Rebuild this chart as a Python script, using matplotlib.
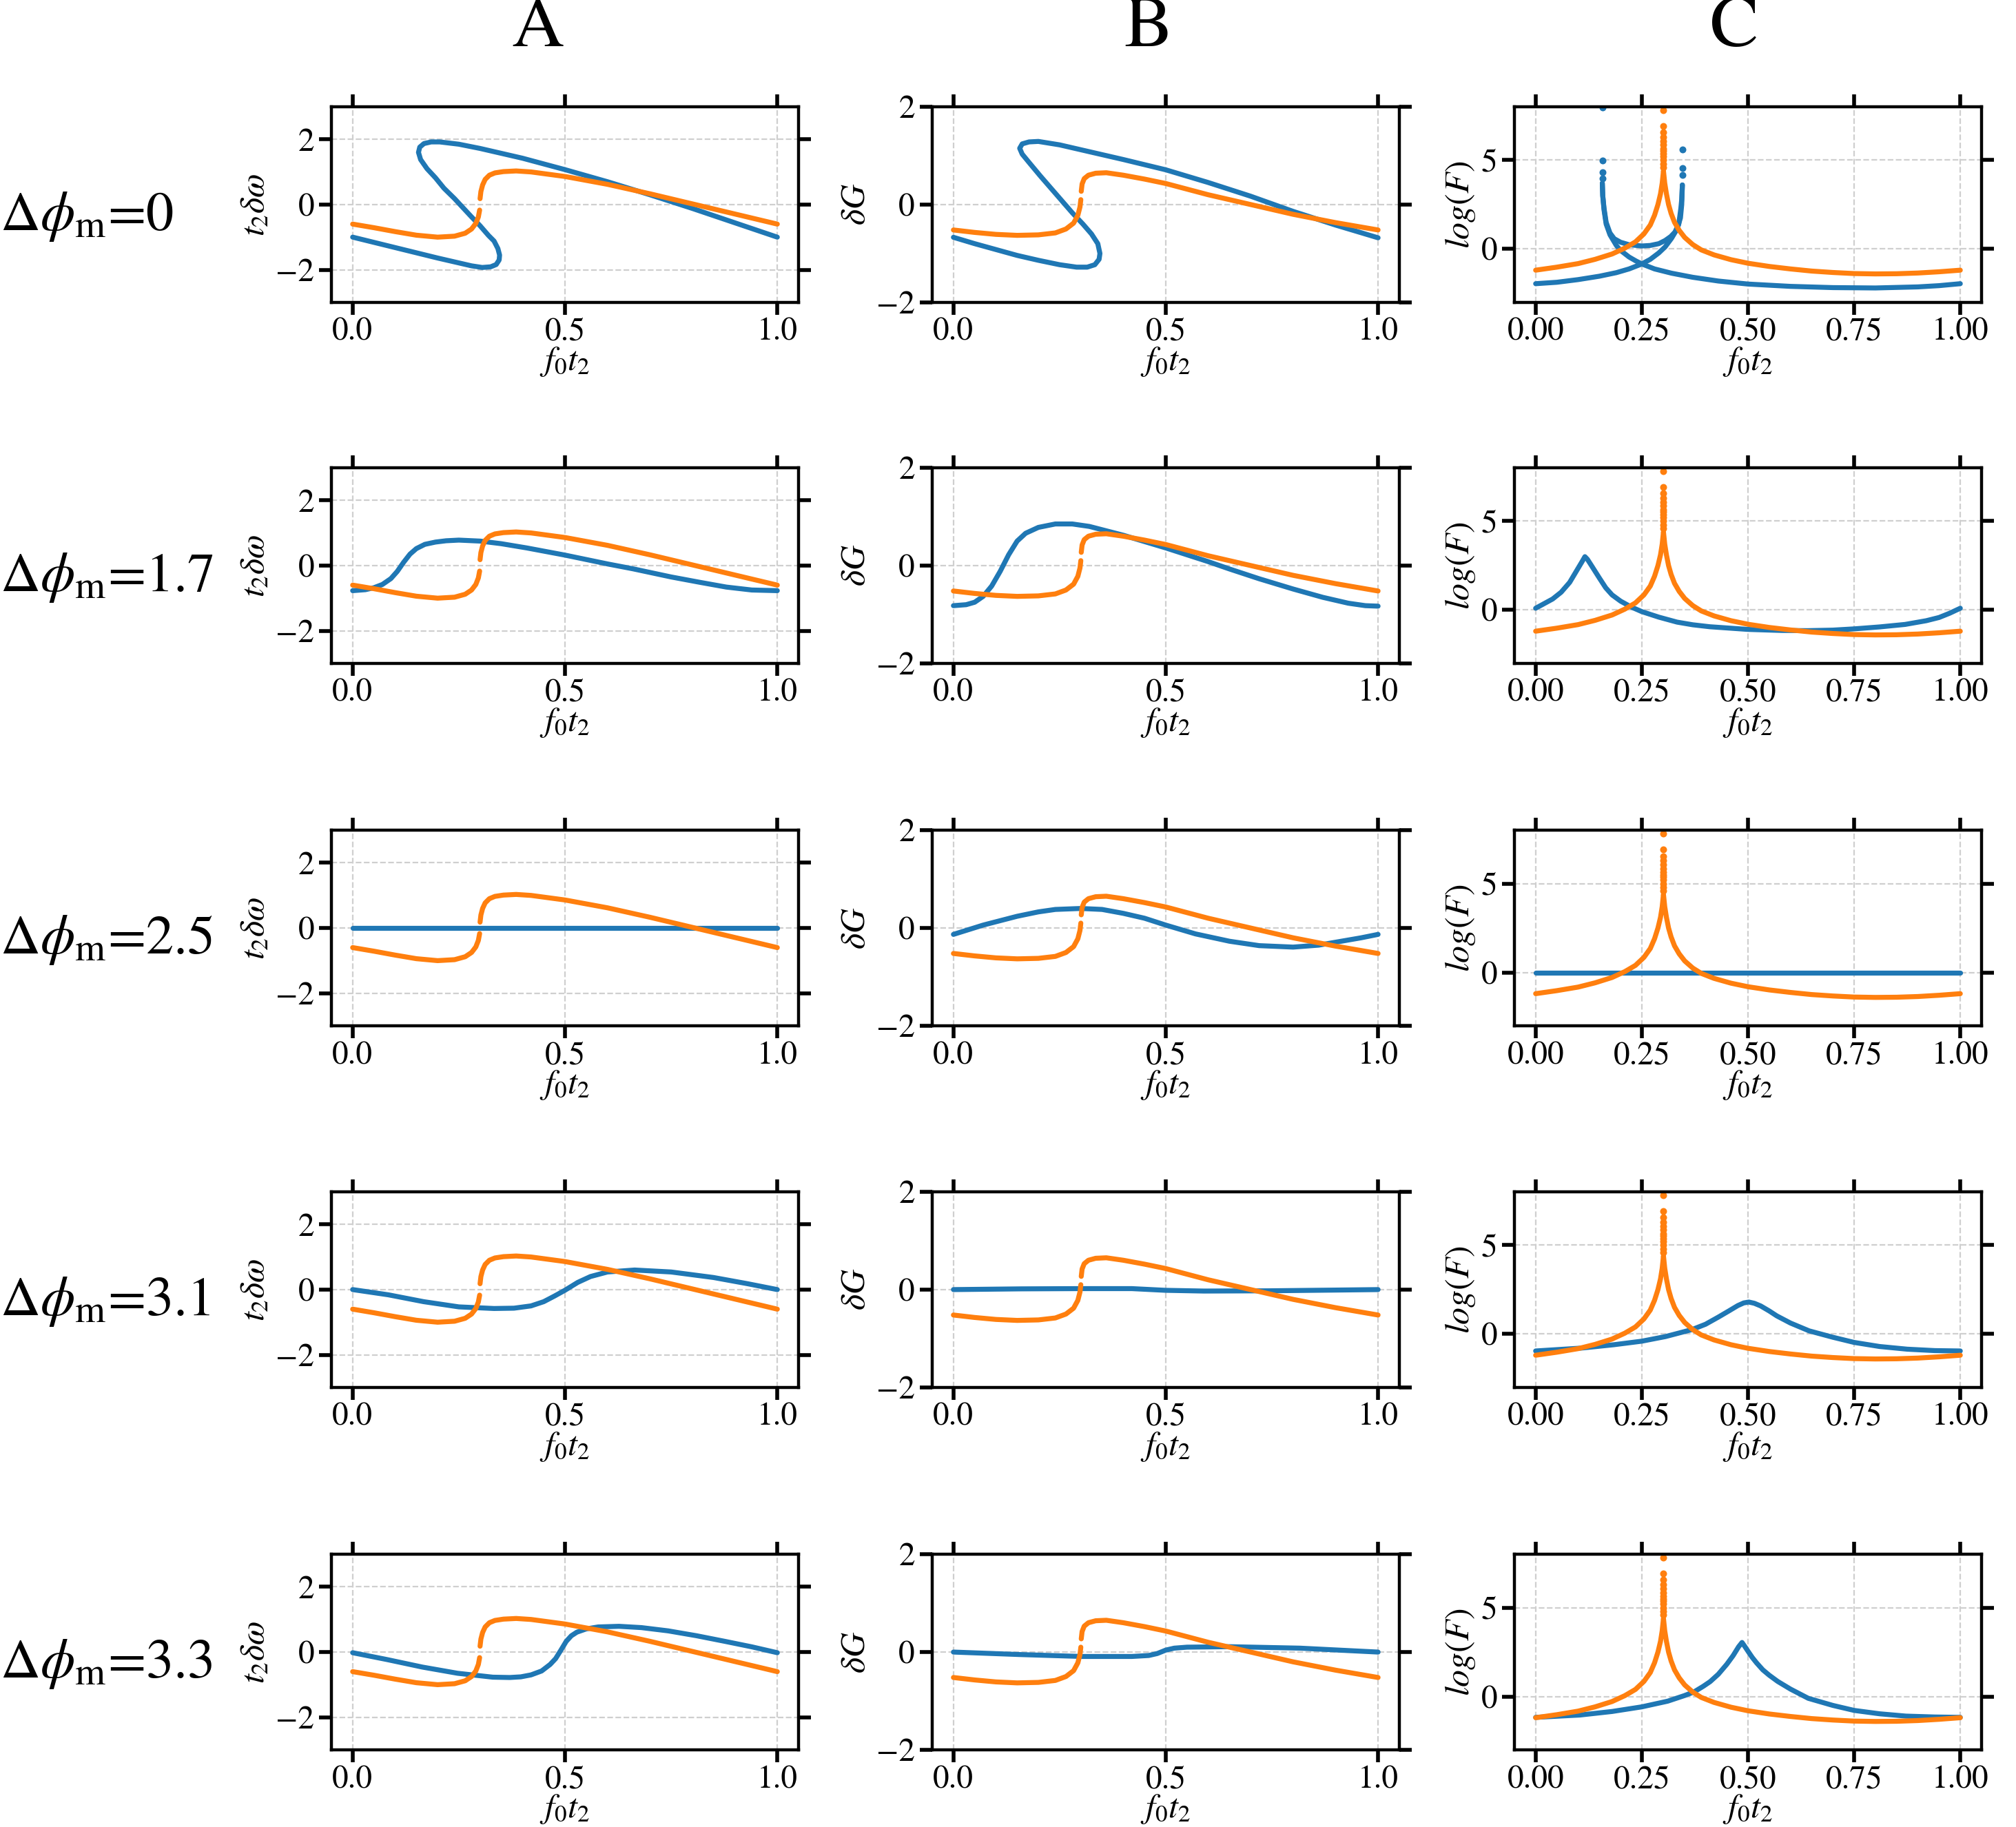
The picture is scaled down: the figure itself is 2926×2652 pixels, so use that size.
import matplotlib
matplotlib.use("Agg")
import numpy as np
import matplotlib.pyplot as plt

plt.rcParams['font.family'] = ['STIXGeneral', 'DejaVu Serif']
plt.rcParams['mathtext.fontset'] = 'stix'

BLUE = '#1f77b4'
ORANGE = '#ff7f0e'

row_labels = ['0', '1.7', '2.5', '3.1', '3.3']
col_titles = ['A', 'B', 'C']

# ---- orange reference curves (same in every row) ----
orange_a_lo_x = [0, 0.05, 0.1, 0.15, 0.2, 0.24, 0.265, 0.28, 0.29, 0.296, 0.299]
orange_a_lo_y = [-0.6, -0.71, -0.83, -0.94, -1.0, -0.97, -0.88, -0.75, -0.58, -0.38, -0.17]
orange_a_hi_x = [0.3, 0.302, 0.306, 0.312, 0.322, 0.335, 0.355, 0.385, 0.42, 0.46, 0.5,
                 0.6, 0.7, 0.8, 0.9, 1.0]
orange_a_hi_y = [0.18, 0.4, 0.6, 0.77, 0.9, 0.97, 1.01, 1.03, 1.0, 0.93, 0.86,
                 0.62, 0.33, 0.02, -0.29, -0.6]

orange_b_lo_x = [0, 0.05, 0.1, 0.15, 0.2, 0.24, 0.265, 0.283, 0.293, 0.298, 0.3]
orange_b_lo_y = [-0.52, -0.57, -0.61, -0.63, -0.62, -0.58, -0.5, -0.38, -0.22, -0.05, 0.1]
orange_b_hi_x = [0.301, 0.303, 0.308, 0.318, 0.335, 0.36, 0.4, 0.45, 0.5, 0.6, 0.7, 0.8, 0.9, 1.0]
orange_b_hi_y = [0.27, 0.42, 0.53, 0.6, 0.64, 0.65, 0.6, 0.52, 0.43, 0.2, 0.0, -0.2, -0.37, -0.52]

orange_c_x = [0, 0.05, 0.1, 0.14, 0.18, 0.21, 0.235, 0.255, 0.27, 0.28, 0.288, 0.294, 0.298, 0.301,
              0.304, 0.308, 0.313, 0.319, 0.327, 0.338, 0.351, 0.37, 0.39, 0.42, 0.46, 0.5,
              0.55, 0.6, 0.65, 0.7, 0.75, 0.8, 0.85, 0.9, 0.95, 1.0]
orange_c_y = [-1.19, -1.02, -0.82, -0.58, -0.28, 0.05, 0.4, 0.85, 1.35, 1.9, 2.5, 3.1, 3.7, 4.4,
              3.7, 3.1, 2.5, 2.0, 1.5, 1.05, 0.65, 0.25, -0.05, -0.33, -0.6, -0.8,
              -0.98, -1.12, -1.24, -1.32, -1.38, -1.4, -1.39, -1.35, -1.28, -1.19]
orange_c_dot_x = 0.301
orange_c_dots = [4.6, 4.8, 5.0, 5.2, 5.35, 5.5, 5.65, 5.85, 6.05, 6.3, 6.55, 6.9, 7.8]

# ---- blue curves, row 1 (dphi = 0): multivalued ----
blue_a0_x = [0, 0.05, 0.1, 0.15, 0.2, 0.25, 0.28, 0.305, 0.325, 0.338, 0.345, 0.346,
             0.342, 0.333, 0.32, 0.3, 0.28, 0.26, 0.24, 0.215, 0.195, 0.175, 0.16, 0.155,
             0.158, 0.168, 0.185, 0.205, 0.25, 0.3, 0.4, 0.5, 0.6, 0.7, 0.8, 0.9, 1.0]
blue_a0_y = [-1.0, -1.16, -1.32, -1.48, -1.64, -1.79, -1.88, -1.93, -1.91, -1.84, -1.7, -1.55,
             -1.35, -1.12, -0.95, -0.65, -0.38, -0.1, 0.18, 0.5, 0.82, 1.1, 1.38, 1.6,
             1.76, 1.87, 1.92, 1.92, 1.85, 1.72, 1.42, 1.07, 0.7, 0.3, -0.12, -0.56, -1.0]

blue_b0_x = [0, 0.05, 0.1, 0.15, 0.2, 0.25, 0.29, 0.315, 0.333, 0.343, 0.345,
             0.34, 0.325, 0.305, 0.28, 0.255, 0.23, 0.205, 0.18, 0.162, 0.156, 0.162, 0.178, 0.2,
             0.25, 0.3, 0.4, 0.5, 0.6, 0.7, 0.8, 0.9, 1.0]
blue_b0_y = [-0.67, -0.8, -0.92, -1.04, -1.14, -1.23, -1.28, -1.28, -1.23, -1.12, -1.0,
             -0.8, -0.6, -0.4, -0.17, 0.08, 0.33, 0.58, 0.84, 1.03, 1.15, 1.24, 1.28, 1.29,
             1.22, 1.12, 0.92, 0.71, 0.45, 0.17, -0.14, -0.42, -0.68]

blue_c0_lo_x = [0, 0.05, 0.1, 0.15, 0.19, 0.22, 0.25, 0.27, 0.29, 0.305, 0.32, 0.33, 0.337,
                0.342, 0.344, 0.3455]
blue_c0_lo_y = [-1.95, -1.87, -1.72, -1.53, -1.33, -1.12, -0.84, -0.58, -0.22, 0.12, 0.6, 1.0,
                1.4, 2.3, 2.8, 3.6]
blue_c0_mid_x = [0.157, 0.158, 0.161, 0.166, 0.175, 0.185, 0.2, 0.22, 0.25, 0.27, 0.29, 0.305,
                 0.318, 0.328, 0.336, 0.341, 0.344, 0.3455]
blue_c0_mid_y = [3.7, 3.0, 2.3, 1.5, 0.9, 0.58, 0.38, 0.24, 0.17, 0.2, 0.3, 0.48,
                 0.7, 0.95, 1.35, 1.75, 2.5, 3.6]
blue_c0_hi_x = [0.157, 0.158, 0.161, 0.166, 0.175, 0.19, 0.2, 0.22, 0.236, 0.25, 0.28, 0.32,
                0.37, 0.43, 0.5, 0.6, 0.7, 0.8, 0.9, 0.95, 1.0]
blue_c0_hi_y = [3.7, 3.0, 2.2, 1.4, 0.8, 0.2, -0.08, -0.45, -0.67, -0.84, -1.12, -1.36,
                -1.59, -1.8, -1.97, -2.1, -2.17, -2.19, -2.13, -2.06, -1.95]
blue_c0_dots_left = [3.95, 4.3, 4.96, 7.94]
blue_c0_dots_right = [4.18, 4.55, 5.6]

# ---- blue curves, row 2 (dphi = 1.7) ----
blue_a1_x = [0, 0.03, 0.05, 0.07, 0.09, 0.105, 0.12, 0.135, 0.15, 0.17, 0.195, 0.22, 0.25,
             0.3, 0.35, 0.41, 0.5, 0.6, 0.66, 0.75, 0.82, 0.88, 0.94, 1.0]
blue_a1_y = [-0.77, -0.74, -0.68, -0.58, -0.4, -0.18, 0.1, 0.35, 0.52, 0.65, 0.72, 0.76, 0.78,
             0.75, 0.67, 0.54, 0.32, 0.05, -0.1, -0.35, -0.52, -0.66, -0.75, -0.77]
blue_b1_x = [0, 0.03, 0.05, 0.07, 0.09, 0.11, 0.13, 0.15, 0.17, 0.2, 0.24, 0.28, 0.32, 0.4,
             0.5, 0.6, 0.65, 0.72, 0.8, 0.87, 0.93, 0.97, 1.0]
blue_b1_y = [-0.82, -0.8, -0.75, -0.63, -0.42, -0.12, 0.22, 0.5, 0.66, 0.78, 0.85, 0.85, 0.8, 0.62,
             0.36, 0.08, -0.07, -0.27, -0.48, -0.65, -0.77, -0.82, -0.83]
blue_c1_x = [0, 0.04, 0.06, 0.08, 0.1, 0.11, 0.116, 0.122, 0.133, 0.15, 0.165, 0.18, 0.2, 0.225,
             0.25, 0.29, 0.333, 0.37, 0.41, 0.5, 0.58, 0.64, 0.7, 0.75, 0.81, 0.87, 0.92, 0.95,
             0.975, 1.0]
blue_c1_y = [0.1, 0.62, 1.0, 1.55, 2.35, 2.75, 3.0, 2.85, 2.44, 1.8, 1.25, 0.85, 0.5, 0.17,
             -0.09, -0.4, -0.68, -0.83, -0.94, -1.09, -1.15, -1.16, -1.13, -1.06, -0.95, -0.81,
             -0.6, -0.42, -0.18, 0.1]

# ---- blue curves, row 3 (dphi = 2.5) ----
blue_a2_x = [0, 0.25, 0.5, 0.75, 1.0]
blue_a2_y = [0, 0, 0, 0, 0]
blue_b2_x = [0, 0.07, 0.15, 0.2, 0.24, 0.3, 0.35, 0.4, 0.45, 0.5, 0.57, 0.65, 0.72, 0.8, 0.86,
             0.92, 0.96, 1.0]
blue_b2_y = [-0.13, 0.06, 0.24, 0.33, 0.38, 0.4, 0.38, 0.3, 0.2, 0.06, -0.12, -0.27, -0.36,
             -0.39, -0.35, -0.26, -0.2, -0.13]
blue_c2_x = [0, 0.25, 0.5, 0.75, 1.0]
blue_c2_y = [0, 0, 0, 0, 0]

# ---- blue curves, row 4 (dphi = 3.1) ----
blue_a3_x = [0, 0.084, 0.167, 0.25, 0.333, 0.38, 0.42, 0.45, 0.475, 0.5, 0.53, 0.56, 0.6,
             0.664, 0.75, 0.85, 0.93, 1.0]
blue_a3_y = [0, -0.16, -0.37, -0.53, -0.58, -0.57, -0.5, -0.37, -0.2, -0.02, 0.22, 0.4, 0.54,
             0.6, 0.54, 0.37, 0.18, 0.0]
blue_b3_x = [0, 0.16, 0.3, 0.42, 0.5, 0.59, 0.74, 0.9, 1.0]
blue_b3_y = [0, 0.015, 0.02, 0.02, -0.015, -0.03, -0.025, -0.01, 0.0]
blue_c3_x = [0, 0.107, 0.184, 0.25, 0.306, 0.368, 0.4, 0.43, 0.455, 0.476, 0.49, 0.502, 0.515,
             0.53, 0.55, 0.568, 0.6, 0.644, 0.7, 0.75, 0.81, 0.875, 0.94, 1.0]
blue_c3_y = [-0.95, -0.79, -0.6, -0.4, -0.14, 0.25, 0.55, 0.95, 1.3, 1.6, 1.75, 1.8, 1.73,
             1.58, 1.3, 1.02, 0.62, 0.18, -0.18, -0.47, -0.7, -0.85, -0.93, -0.95]

# ---- blue curves, row 5 (dphi = 3.3) ----
blue_a4_x = [0, 0.081, 0.164, 0.247, 0.33, 0.37, 0.396, 0.42, 0.445, 0.465, 0.478, 0.49, 0.503,
             0.515, 0.528, 0.55, 0.578, 0.627, 0.68, 0.743, 0.81, 0.876, 0.94, 1.0]
blue_a4_y = [-0.02, -0.23, -0.46, -0.65, -0.77, -0.78, -0.76, -0.7, -0.58, -0.38, -0.2, 0.05, 0.33,
             0.5, 0.61, 0.71, 0.77, 0.79, 0.75, 0.65, 0.5, 0.33, 0.16, -0.02]
blue_b4_x = [0, 0.154, 0.303, 0.42, 0.46, 0.48, 0.5, 0.52, 0.55, 0.65, 0.816, 1.0]
blue_b4_y = [0, -0.05, -0.09, -0.09, -0.07, -0.03, 0.04, 0.08, 0.1, 0.11, 0.08, 0.0]
blue_c4_x = [0, 0.104, 0.18, 0.25, 0.311, 0.35, 0.373, 0.395, 0.411, 0.43, 0.45, 0.465, 0.478,
             0.486, 0.493, 0.5, 0.51, 0.52, 0.535, 0.55, 0.57, 0.6, 0.642, 0.7, 0.75, 0.81,
             0.872, 0.94, 1.0]
blue_c4_y = [-1.17, -1.04, -0.84, -0.58, -0.26, 0.05, 0.26, 0.58, 0.84, 1.25, 1.81, 2.3, 2.8,
             3.04, 2.8, 2.55, 2.2, 1.9, 1.5, 1.2, 0.85, 0.42, -0.1, -0.5, -0.78, -0.97,
             -1.1, -1.15, -1.17]

blue_a = [(blue_a0_x, blue_a0_y), (blue_a1_x, blue_a1_y), (blue_a2_x, blue_a2_y),
          (blue_a3_x, blue_a3_y), (blue_a4_x, blue_a4_y)]
blue_b = [(blue_b0_x, blue_b0_y), (blue_b1_x, blue_b1_y), (blue_b2_x, blue_b2_y),
          (blue_b3_x, blue_b3_y), (blue_b4_x, blue_b4_y)]
blue_c = [None, (blue_c1_x, blue_c1_y), (blue_c2_x, blue_c2_y),
          (blue_c3_x, blue_c3_y), (blue_c4_x, blue_c4_y)]

LW = 2.6
line_kw = dict(lw=LW, solid_capstyle='round', solid_joinstyle='round')
DOT = 2.6


def style_axis(ax, col):
    ax.set_xlim(-0.05, 1.05)
    if col == 0:
        ax.set_ylim(-3, 3)
        ax.set_yticks([-2, 0, 2])
        ax.set_xticks([0, 0.5, 1.0])
        ax.set_xticklabels(['0.0', '0.5', '1.0'])
        ax.set_ylabel(r'$t_2\delta\omega$', fontsize=18, labelpad=2)
    elif col == 1:
        ax.set_ylim(-2, 2)
        ax.set_yticks([-2, 0, 2])
        ax.set_xticks([0, 0.5, 1.0])
        ax.set_xticklabels(['0.0', '0.5', '1.0'])
        ax.set_ylabel(r'$\delta G$', fontsize=18, labelpad=2)
    else:
        ax.set_ylim(-3, 8)
        ax.set_yticks([0, 5])
        ax.set_xticks([0, 0.25, 0.5, 0.75, 1.0])
        ax.set_xticklabels(['0.00', '0.25', '0.50', '0.75', '1.00'])
        ax.set_ylabel(r'$log(F)$', fontsize=18, labelpad=2)
    ax.set_xlabel(r'$f_0t_2$', fontsize=18, labelpad=-1)
    ax.grid(True, ls='--', color='#cfcfcf', lw=0.8)
    ax.tick_params(direction='out', length=6.5, width=2, top=True, right=True,
                   labelsize=17)
    ax.tick_params(axis='x', pad=1.5)
    ax.tick_params(axis='y', pad=2.5)
    for sp in ax.spines.values():
        sp.set_linewidth(1.6)


fig = plt.figure(figsize=(14.63, 13.26), dpi=200)

lefts = [0.1644, 0.4624, 0.7512]
bottoms = [0.8345, 0.6369, 0.4385, 0.2406, 0.0422]
W, H = 0.2317, 0.1071

for r in range(5):
    # column A
    ax = fig.add_axes([lefts[0], bottoms[r], W, H])
    bx, by = blue_a[r]
    ax.plot(bx, by, color=BLUE, **line_kw)
    ax.plot(orange_a_lo_x, orange_a_lo_y, color=ORANGE, **line_kw)
    ax.plot(orange_a_hi_x, orange_a_hi_y, color=ORANGE, **line_kw)
    style_axis(ax, 0)

    # column B
    ax = fig.add_axes([lefts[1], bottoms[r], W, H])
    bx, by = blue_b[r]
    ax.plot(bx, by, color=BLUE, **line_kw)
    ax.plot(orange_b_lo_x, orange_b_lo_y, color=ORANGE, **line_kw)
    ax.plot(orange_b_hi_x, orange_b_hi_y, color=ORANGE, **line_kw)
    style_axis(ax, 1)

    # column C
    ax = fig.add_axes([lefts[2], bottoms[r], W, H])
    if r == 0:
        ax.plot(blue_c0_lo_x, blue_c0_lo_y, color=BLUE, **line_kw)
        ax.plot(blue_c0_mid_x, blue_c0_mid_y, color=BLUE, **line_kw)
        ax.plot(blue_c0_hi_x, blue_c0_hi_y, color=BLUE, **line_kw)
        ax.plot([0.157] * len(blue_c0_dots_left), blue_c0_dots_left, 'o', color=BLUE, ms=DOT)
        ax.plot([0.3455] * len(blue_c0_dots_right), blue_c0_dots_right, 'o', color=BLUE, ms=DOT)
    else:
        bx, by = blue_c[r]
        ax.plot(bx, by, color=BLUE, **line_kw)
    ax.plot(orange_c_x, orange_c_y, color=ORANGE, **line_kw)
    ax.plot([orange_c_dot_x] * len(orange_c_dots), orange_c_dots, 'o', color=ORANGE, ms=DOT)
    style_axis(ax, 2)

    # row label
    baseline = [0.8741, 0.6765, 0.4781, 0.2802, 0.0818][r]
    fig.text(0.0, baseline, r'$\Delta\phi_{\rm m}$=' + row_labels[r],
             fontsize=29, ha='left', va='baseline')

title_x = [0.2666, 0.5694, 0.8602]
for x, t in zip(title_x, col_titles):
    fig.text(x, 0.984, t, fontsize=38, ha='center', va='center')

fig.savefig('out.png', dpi=200)
